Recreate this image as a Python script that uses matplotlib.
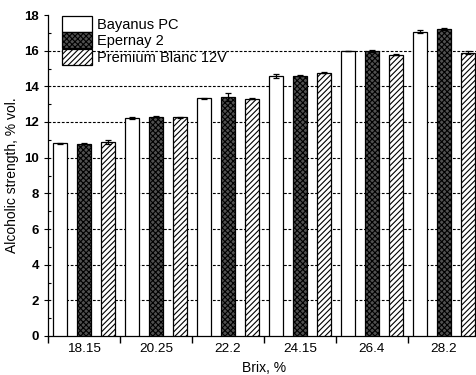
import matplotlib
matplotlib.use("Agg")
import matplotlib.pyplot as plt
import numpy as np

plt.rcParams['font.family'] = ['Liberation Sans', 'DejaVu Sans']
plt.rcParams['hatch.linewidth'] = 0.8

categories = ["18.15", "20.25", "22.2", "24.15", "26.4", "28.2"]
series_names = ["Bayanus PC", "Epernay 2", "Premium Blanc 12V"]
bayanus = [10.80, 12.23, 13.32, 14.57, 16.00, 17.06]
bayanus_err = [0.02, 0.07, 0.03, 0.10, 0.0, 0.08]
epernay = [10.79, 12.29, 13.40, 14.59, 15.97, 17.20]
epernay_err = [0.02, 0.02, 0.25, 0.02, 0.04, 0.05]
premium = [10.87, 12.27, 13.30, 14.76, 15.78, 15.88]
premium_err = [0.10, 0.02, 0.02, 0.03, 0.02, 0.08]

fig = plt.figure(figsize=(4.77, 3.75), dpi=100)
ax = fig.add_axes([48/477, 1-336/375, 432/477, (336-15)/375])

x = np.arange(len(categories))
w = 0.185
off = 0.333
styles = [
    dict(facecolor='white', hatch=None),
    dict(facecolor='#505050', hatch='xxxxxx'),
    dict(facecolor='white', hatch='//////'),
]
data = [(bayanus, bayanus_err), (epernay, epernay_err), (premium, premium_err)]
for i, ((vals, errs), st, name) in enumerate(zip(data, styles, series_names)):
    ax.bar(x + (i-1)*off, vals, w, yerr=errs, facecolor=st['facecolor'],
           hatch=st['hatch'], edgecolor='black', linewidth=0.9, label=name,
           error_kw=dict(ecolor='black', elinewidth=0.9, capsize=2.5, capthick=0.9),
           zorder=3)

ax.set_xlim(-0.5, 5.5)
ax.set_ylim(0, 18)
ax.set_xticks(np.arange(-0.5, 6.0, 1.0))
ax.set_xticklabels([])
ax.set_xticks(x, minor=True)
ax.set_xticklabels(categories, minor=True)
ax.tick_params(axis='x', which='major', direction='out', length=5, width=1)
ax.tick_params(axis='x', which='minor', length=0, pad=5, labelsize=9.7)

ax.set_yticks(np.arange(0, 19, 2))
ax.set_yticks(np.arange(1, 18, 2), minor=True)
ax.tick_params(axis='y', which='major', direction='out', length=3, width=0.8, labelsize=9.5)
ax.tick_params(axis='y', which='minor', direction='in', length=2, width=0.8)
for lab in ax.get_yticklabels():
    lab.set_fontweight('bold')

ax.yaxis.grid(True, which='major', linestyle=(0, (2.5, 1.5)), color='black', linewidth=0.8)
gl = ax.get_ygridlines()
gl[0].set_visible(False)
gl[-1].set_visible(False)
ax.set_axisbelow(True)
ax.spines['top'].set_visible(False)
ax.spines['right'].set_visible(False)
ax.spines['left'].set_linewidth(0.9)
ax.spines['bottom'].set_linewidth(0.9)

ax.set_xlabel("Brix, %", fontsize=10, labelpad=4)
ax.set_ylabel("Alcoholic strength, % vol.", fontsize=10, labelpad=4)

leg = ax.legend(loc='upper left', bbox_to_anchor=(0.025, 1.005), frameon=False,
                fontsize=10.5, handlelength=2.1, handleheight=1.3,
                labelspacing=0.02, handletextpad=0.3, borderaxespad=0.0,
                borderpad=0.2)

fig.savefig("out.png", dpi=100)
